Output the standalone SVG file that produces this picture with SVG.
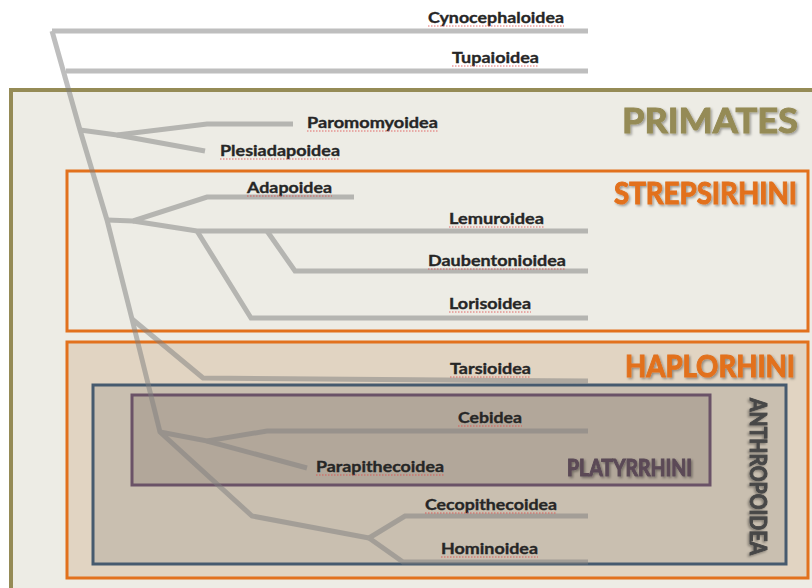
<svg xmlns="http://www.w3.org/2000/svg" width="812" height="588" viewBox="0 0 812 588">
<defs>
<filter id="sh" x="-10%" y="-20%" width="130%" height="160%">
<feDropShadow dx="1.5" dy="1.5" stdDeviation="1" flood-color="#000" flood-opacity="0.35"/>
</filter>
<style>
.box{stroke-width:3}
.head{font-family:Lato,"Open Sans","Liberation Sans",sans-serif;font-weight:bold;filter:url(#sh);stroke-width:1}
.lbl{font-family:Lato,"Open Sans","Liberation Sans",sans-serif;font-weight:bold;font-size:16px;fill:#262626;stroke:#262626;stroke-width:0.35}
.sq{stroke:#E04848;stroke-width:1;stroke-dasharray:1.5 1.5;fill:none;opacity:0.8}
#connectors path{fill:none;stroke:#7F7F7F;stroke-width:5}
</style>
</defs>
<rect x="0" y="0" width="812" height="588" fill="#FFFFFF"/>
<g id="primates">
<rect x="11" y="90" width="830" height="530" fill="#EDECE5" stroke="#958B56" stroke-width="4"/>
<text class="head" x="622" y="133" font-size="35" fill="#958B56" stroke="#958B56" textLength="176" lengthAdjust="spacingAndGlyphs">PRIMATES</text>
</g>
<g id="strepsirhini">
<rect class="box" x="67" y="171" width="741" height="160" fill="none" stroke="#E2711D"/>
<text class="head" x="614" y="204" font-size="30" fill="#E2711D" stroke="#E2711D" textLength="183" lengthAdjust="spacingAndGlyphs">STREPSIRHINI</text>
</g>
<g id="haplorhini">
<rect class="box" x="67" y="342" width="741" height="236" fill="#E1D4C2" stroke="#E2711D"/>
<text class="head" x="625" y="377" font-size="30" fill="#E2711D" stroke="#E2711D" textLength="170" lengthAdjust="spacingAndGlyphs">HAPLORHINI</text>
</g>
<g id="anthropoidea">
<rect class="box" x="93" y="385" width="693" height="179" fill="#C9BFB0" stroke="#465A6E"/>
<text class="head" transform="translate(750,398) rotate(90)" x="0" y="0" font-size="23" fill="#474747" stroke="#474747" stroke-width="0.8" textLength="157" lengthAdjust="spacingAndGlyphs">ANTHROPOIDEA</text>
</g>
<g id="platyrrhini">
<rect class="box" x="132" y="395" width="578" height="90" fill="#B2A79A" stroke="#6A5267"/>
<text class="head" x="567" y="476" font-size="22" fill="#5B4A57" stroke="#5B4A57" stroke-width="0.8" textLength="125" lengthAdjust="spacingAndGlyphs">PLATYRRHINI</text>
</g>
<g id="connectors" opacity="0.5">
<path d="M52,31 L80,130 L107,220 L132,319 L160,432 L252,516 L369,538"/>
<path d="M52,31 H588"/>
<path d="M66,71 H588"/>
<path d="M80,130 L117,135 L207,124 H293"/>
<path d="M117,135 L205,151"/>
<path d="M107,220 L133,221 L207,197 H354"/>
<path d="M133,221 L197,231 H588"/>
<path d="M267,231 L295,271 H588"/>
<path d="M197,231 L251,318 H588"/>
<path d="M132,319 L203,378 L588,381"/>
<path d="M160,432 L207,441 L267,431 H588"/>
<path d="M207,441 L307,468"/>
<path d="M369,538 L405,516 H588"/>
<path d="M369,538 L403,562 H588"/>
</g>
<g id="cynocephaloidea"><text class="lbl" x="428" y="23" textLength="136" lengthAdjust="spacingAndGlyphs">Cynocephaloidea</text><path class="sq" d="M428,26 h136"/></g>
<g id="tupaioidea"><text class="lbl" x="452" y="63" textLength="87" lengthAdjust="spacingAndGlyphs">Tupaioidea</text><path class="sq" d="M452,66 h87"/></g>
<g id="paromomyoidea"><text class="lbl" x="307" y="128" textLength="131" lengthAdjust="spacingAndGlyphs">Paromomyoidea</text><path class="sq" d="M307,131 h131"/></g>
<g id="plesiadapoidea"><text class="lbl" x="220" y="156" textLength="120" lengthAdjust="spacingAndGlyphs">Plesiadapoidea</text><path class="sq" d="M220,159 h120"/></g>
<g id="adapoidea"><text class="lbl" x="247" y="193" textLength="85" lengthAdjust="spacingAndGlyphs">Adapoidea</text><path class="sq" d="M247,196 h85"/></g>
<g id="lemuroidea"><text class="lbl" x="449" y="224" textLength="95" lengthAdjust="spacingAndGlyphs">Lemuroidea</text><path class="sq" d="M449,227 h95"/></g>
<g id="daubentonioidea"><text class="lbl" x="428" y="266" textLength="138" lengthAdjust="spacingAndGlyphs">Daubentonioidea</text><path class="sq" d="M428,269 h138"/></g>
<g id="lorisoidea"><text class="lbl" x="449" y="309" textLength="82" lengthAdjust="spacingAndGlyphs">Lorisoidea</text><path class="sq" d="M449,312 h82"/></g>
<g id="tarsioidea"><text class="lbl" x="450" y="374" textLength="81" lengthAdjust="spacingAndGlyphs">Tarsioidea</text><path class="sq" d="M450,377 h81"/></g>
<g id="cebidea"><text class="lbl" x="458" y="423" textLength="64" lengthAdjust="spacingAndGlyphs">Cebidea</text><path class="sq" d="M458,426 h64"/></g>
<g id="parapithecoidea"><text class="lbl" x="316" y="472" textLength="128" lengthAdjust="spacingAndGlyphs">Parapithecoidea</text><path class="sq" d="M316,475 h128"/></g>
<g id="cecopithecoidea"><text class="lbl" x="425" y="510" textLength="132" lengthAdjust="spacingAndGlyphs">Cecopithecoidea</text><path class="sq" d="M425,513 h132"/></g>
<g id="hominoidea"><text class="lbl" x="441" y="554" textLength="97" lengthAdjust="spacingAndGlyphs">Hominoidea</text><path class="sq" d="M441,557 h97"/></g>
</svg>
